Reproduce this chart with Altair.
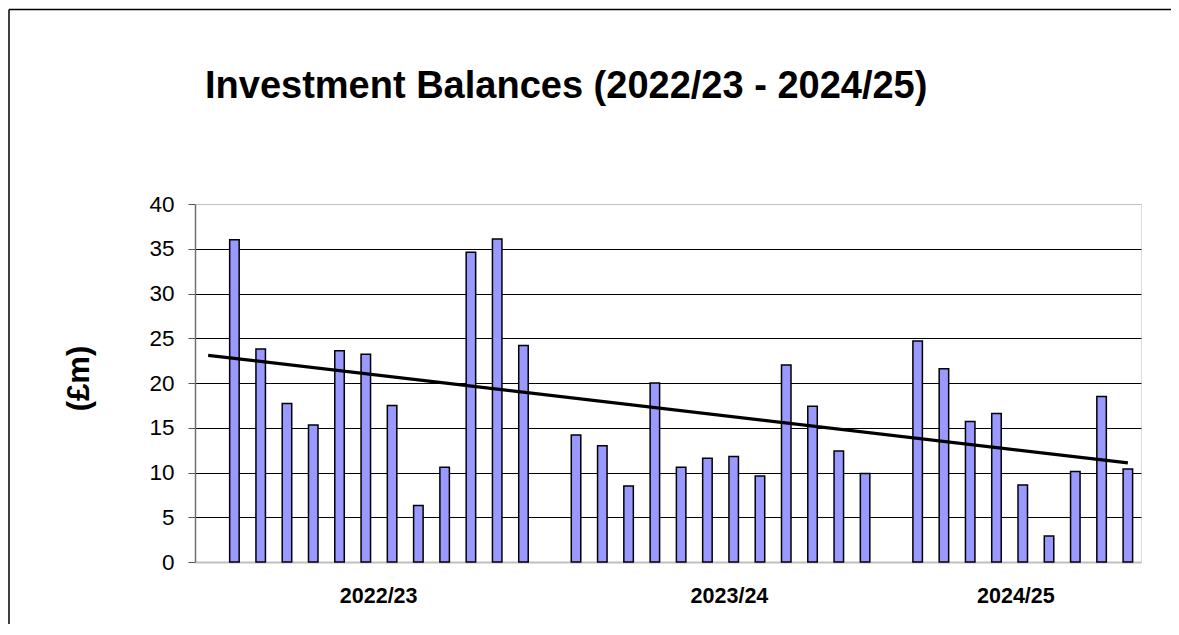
import altair as alt
import pandas as pd

# ---- data ----
fy_labels = ["2022/23", "2023/24", "2024/25"]
fy2022 = [36.0, 23.8, 17.7, 15.3, 23.6, 23.2, 17.5, 6.3, 10.6, 34.6, 36.1, 24.2]
fy2023 = [14.2, 13.0, 8.5, 20.0, 10.6, 11.6, 11.8, 9.6, 22.0, 17.4, 12.4, 9.9]
fy2024 = [24.7, 21.6, 15.7, 16.6, 8.6, 2.9, 10.1, 18.5, 10.4]
y_ticks = [0, 5, 10, 15, 20, 25, 30, 35, 40]
title_text = "Investment Balances (2022/23 - 2024/25)"
y_title = "(£m)"

# category slots: one blank category before the first year and between years
rows = []
slot = 1
for label, group in zip(fy_labels, (fy2022, fy2023, fy2024)):
    for v in group:
        rows.append({"slot": slot, "value": v, "year": label})
        slot += 1
    slot += 1
n_slots = slot - 1  # 36 categories: 0 .. 35
df = pd.DataFrame(rows)

# year label placement on the category axis (in category units)
year_label_slots = [6.47, 19.82, 30.72]
label_expr = (
    f"datum.value < 13 ? '{fy_labels[0]}' : "
    f"datum.value < 26 ? '{fy_labels[1]}' : '{fy_labels[2]}'"
)

FONT = "Liberation Sans"
W, H = 946, 358
PAD = {"left": 187, "top": 196, "right": 30, "bottom": 62}

x_enc = alt.X(
    "slot:Q",
    scale=alt.Scale(domain=[-0.5, n_slots - 0.5], nice=False, zero=False, padding=0),
    axis=alt.Axis(
        values=year_label_slots,
        labelExpr=label_expr,
        title=None,
        grid=False,
        ticks=False,
        tickSize=0,
        domainColor="#c0c0c0",
        domainWidth=2,
        labelFont=FONT,
        labelFontSize=21.5,
        labelFontWeight="bold",
        labelColor="black",
        labelPadding=23,
        labelAlign="center",
        labelBaseline="top",
    ),
)

y_enc = alt.Y(
    "value:Q",
    scale=alt.Scale(domain=[0, 40], nice=False),
    axis=alt.Axis(
        values=y_ticks,
        title=y_title,
        titleFont=FONT,
        titleFontSize=31,
        titleFontWeight="bold",
        titleColor="black",
        titleAngle=270,
        titleAlign="center",
        titleBaseline="middle",
        titleX=-116,
        titleY=174,
        grid=True,
        gridColor=alt.condition(
            "datum.value === 40 || datum.value === 0",
            alt.value("#c0c0c0"),
            alt.value("#000000"),
        ),
        gridWidth=1,
        domainColor="#707070",
        domainWidth=1.5,
        tickColor="#555555",
        tickSize=7,
        labelFont=FONT,
        labelFontSize=22.5,
        labelColor="black",
        labelPadding=14,
    ),
)

bars = alt.Chart(df).mark_bar(
    size=9.5, color="#9999ff", stroke="black", strokeWidth=1.5
).encode(x=x_enc, y=y_enc)

trend = (
    alt.Chart(df)
    .transform_regression("slot", "value", extent=[0, n_slots - 1])
    .mark_line(color="black", strokeWidth=3.2)
    .encode(x="slot:Q", y="value:Q")
)

single = pd.DataFrame({"title": [title_text]})
title_mark = alt.Chart(single).mark_text(
    font=FONT, fontSize=38, fontWeight="bold", color="black",
    align="left", baseline="alphabetic",
).encode(text="title:N", x=alt.value(10), y=alt.value(-106))

top_line = alt.Chart(single).mark_rule(color="black", strokeWidth=1.5).encode(
    x=alt.value(-186), x2=alt.value(W + PAD["right"]), y=alt.value(-194.5)
)
left_line = alt.Chart(single).mark_rule(color="black", strokeWidth=1.5).encode(
    x=alt.value(-186), y=alt.value(-194.5), y2=alt.value(H + PAD["bottom"])
)

chart = (
    alt.layer(bars, trend, title_mark, top_line, left_line)
    .properties(width=W, height=H, padding=PAD, autosize="none")
    .configure_view(stroke="#c0c0c0", strokeWidth=1.5)
    .configure(background="white")
)

chart.save("out.html", embed_options={"renderer": "svg", "actions": False})
